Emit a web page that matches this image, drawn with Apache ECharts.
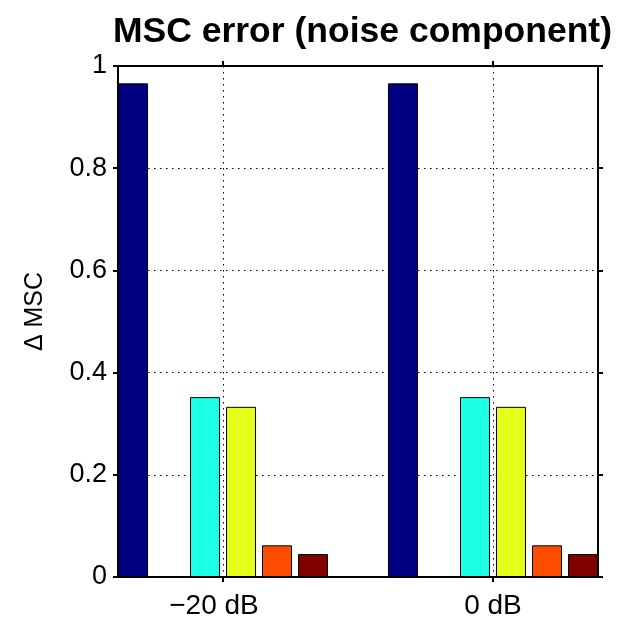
<!DOCTYPE html>
<html>
<head>
<meta charset="utf-8">
<script src="https://cdn.jsdelivr.net/npm/echarts@6/dist/echarts.min.js"></script>
<style>html,body{margin:0;padding:0;background:#fff;}#c{width:617px;height:620px;}</style>
</head>
<body>
<div id="c"></div>
<script>
const categories = ['\u221220 dB', '0 dB'];
const categoryPositions = [1, 2];
const seriesColors = ['#000080', '#004CFF', '#1AFFE6', '#E6FF1A', '#FF4D00', '#800000'];
const bar1 = [0.966, 0.966];
const bar2 = [0, 0];
const bar3 = [0.352, 0.352];
const bar4 = [0.333, 0.333];
const bar5 = [0.062, 0.062];
const bar6 = [0.045, 0.045];
const yTicks = [0, 0.2, 0.4, 0.6, 0.8, 1];

const allBars = [bar1, bar2, bar3, bar4, bar5, bar6];
const FONT = 'Liberation Sans, Arial, Helvetica, sans-serif';
const dotted = { color: '#000', width: 1, type: [1.5, 4.5] };

const chart = echarts.init(document.getElementById('c'), null, { renderer: 'canvas' });

const xCommon = {
  type: 'value',
  min: 0.611,
  max: 2.389,
  axisLine: { show: true, onZero: false, lineStyle: { color: '#000', width: 2 } },
  axisTick: { show: true, inside: false, length: 5, customValues: categoryPositions, lineStyle: { color: '#000', width: 2 } },
};

const option = {
  animation: false,
  backgroundColor: '#fff',
  title: {
    text: 'MSC error (noise component)',
    left: 108,
    top: 9,
    textStyle: { fontFamily: FONT, fontSize: 35.5, fontWeight: 'bold', color: '#000' }
  },
  grid: { left: 118, right: 19, top: 66, bottom: 42.5, containLabel: false },
  xAxis: [
    Object.assign({}, xCommon, {
      position: 'bottom',
      axisLabel: {
        show: true, customValues: categoryPositions, margin: 15,
        fontFamily: FONT, fontSize: 28, color: '#000',
        formatter: v => {
          const i = categoryPositions.indexOf(Math.round(v));
          return i === 0 ? '{s|' + categories[i] + '}' : categories[i];
        },
        rich: { s: { fontFamily: FONT, fontSize: 28, color: '#000', padding: [0, 18, 0, 0] } }
      },
      splitLine: { show: true, lineStyle: dotted }
    }),
    Object.assign({}, xCommon, {
      position: 'top',
      axisLabel: { show: false },
      splitLine: { show: false }
    })
  ],
  yAxis: [
    {
      type: 'value', min: 0, max: 1, interval: 0.2, position: 'left',
      name: '\u0394 MSC', nameLocation: 'middle', nameRotate: 90, nameGap: 70,
      nameTextStyle: { fontFamily: FONT, fontSize: 25, color: '#000', padding: [0, 0, 0, 20] },
      axisLine: { show: true, lineStyle: { color: '#000', width: 2 } },
      axisTick: { show: true, inside: false, length: 5, lineStyle: { color: '#000', width: 2 } },
      axisLabel: {
        margin: 11, fontFamily: FONT, fontSize: 27, color: '#000',
        customValues: yTicks,
        formatter: v => (Math.abs(v) < 1e-9 ? '0' : (Math.abs(v - 1) < 1e-9 ? '1' : v.toFixed(1)))
      },
      splitLine: { show: true, lineStyle: dotted }
    },
    {
      type: 'value', min: 0, max: 1, interval: 0.2, position: 'right',
      axisLine: { show: true, lineStyle: { color: '#000', width: 2 } },
      axisTick: { show: true, inside: false, length: 5, lineStyle: { color: '#000', width: 2 } },
      axisLabel: { show: false },
      splitLine: { show: false }
    }
  ],
  series: allBars.map((vals, i) => ({
    type: 'bar',
    xAxisIndex: 0,
    yAxisIndex: 0,
    barWidth: 30,
    barGap: '20%',
    data: categoryPositions.map((x, j) => [x, vals[j]]),
    itemStyle: { color: seriesColors[i], borderColor: '#000', borderWidth: 1 },
    z: 2
  }))
};

chart.setOption(option);
</script>
</body>
</html>
